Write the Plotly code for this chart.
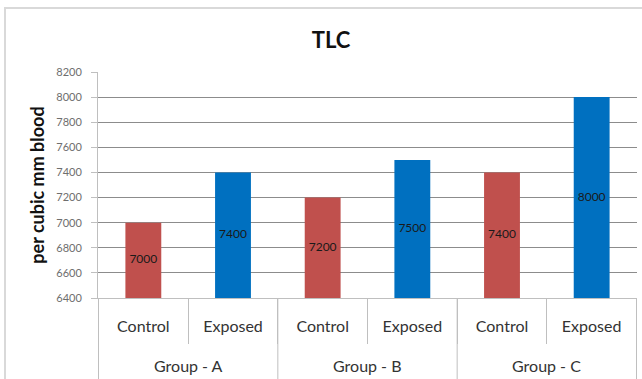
import plotly.graph_objects as go

groups = ["Group - A", "Group - B", "Group - C"]
conditions = ["Control", "Exposed", "Control", "Exposed", "Control", "Exposed"]
categories = ["A-Control", "A-Exposed", "B-Control", "B-Exposed", "C-Control", "C-Exposed"]
tlc_values = [7000, 7400, 7200, 7500, 7400, 8000]
bar_colors = ["#C0504D", "#0070C0", "#C0504D", "#0070C0", "#C0504D", "#0070C0"]
y_min, y_max, y_step = 6400, 8200, 200

W, H = 642, 379
L, R, T, B = 98, 5, 72, 81
pw, ph = W - L - R, H - T - B
line_col = "#BFBFBF"
font_family = "Lato, sans-serif"

fig = go.Figure()
fig.add_trace(go.Bar(
    x=categories,
    y=tlc_values,
    marker=dict(color=bar_colors, line=dict(width=0)),
    width=0.4,
    hoverinfo="x+y",
))

# value labels centred on the visible part of each bar
fig.add_trace(go.Scatter(
    x=categories,
    y=[(y_min + v) / 2 for v in tlc_values],
    mode="text",
    text=[str(v) for v in tlc_values],
    textposition="middle center",
    textfont=dict(family=font_family, size=12, color="#1A1A1A"),
    hoverinfo="skip",
))

fig.update_layout(
    width=W, height=H,
    margin=dict(l=L, r=R, t=T, b=B),
    paper_bgcolor="white",
    plot_bgcolor="white",
    showlegend=False,
    font=dict(family=font_family),
    title=dict(text="<b>TLC</b>", x=331 / W, xanchor="center",
               y=1 - 40 / H, yanchor="middle",
               font=dict(size=22, color="#111111")),
)

fig.update_yaxes(
    range=[y_min, y_max], dtick=y_step, tick0=y_min,
    showgrid=True, gridcolor="#8C8C8C", gridwidth=1,
    showline=True, linecolor=line_col, linewidth=1,
    ticks="outside", ticklen=6, tickcolor=line_col,
    ticklabelstandoff=7,
    tickfont=dict(size=11, color="#6E6E6E"),
    zeroline=False,
    title=dict(text="<b>per cubic mm blood</b>", standoff=6,
               font=dict(size=18, color="#111111")),
)

fig.update_xaxes(
    type="category",
    tickvals=categories, ticktext=conditions,
    showline=True, linecolor=line_col, linewidth=1,
    ticks="outside", tickson="boundaries", ticklen=45, tickcolor=line_col,
    ticklabelstandoff=14,
    tickfont=dict(size=16, color="#333333"),
    showgrid=False,
)

# group labels beneath the condition labels
for gi, g in enumerate(groups):
    fig.add_annotation(x=2 * gi + 0.5, xref="x", y=-(365 - T - ph) / ph, yref="paper",
                       text=g, showarrow=False, yanchor="middle",
                       font=dict(size=16, color="#333333"))

# group dividers running the full depth of the axis labels
for b in [-0.5, 1.5, 3.5, 5.5]:
    fig.add_shape(type="line", xref="x", yref="paper", x0=b, x1=b,
                  y0=0, y1=-(H + 2 - T - ph) / ph,
                  line=dict(color=line_col, width=1))

# outer chart-area frame
fig.add_shape(type="rect", xref="paper", yref="paper",
              x0=(5 - L) / pw, x1=(W + 2 - L) / pw,
              y0=-(H + 2 - T - ph) / ph, y1=1 + (T - 8) / ph,
              line=dict(color="#D9D9D9", width=2), layer="below")

fig.write_html("out.html")
